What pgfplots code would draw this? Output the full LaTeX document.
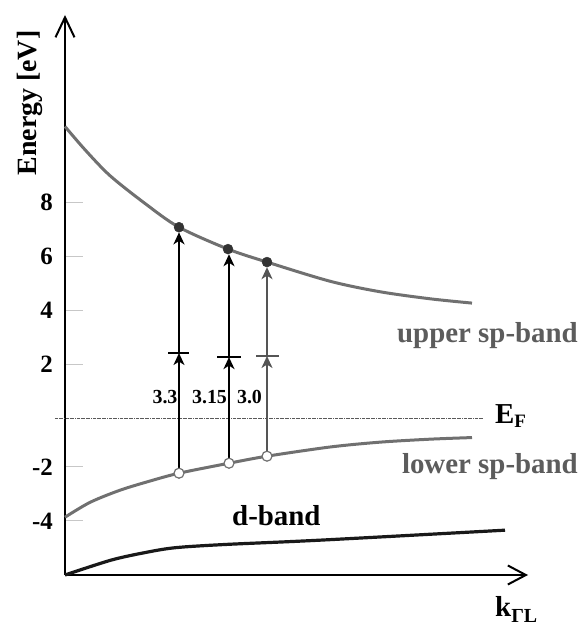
\documentclass[border=0pt]{standalone}
\usepackage{fontspec}
\setmainfont{Liberation Serif}
\usepackage{pgfplots}
\pgfplotsset{compat=1.18}
\usetikzlibrary{arrows.meta}
\definecolor{band}{HTML}{707070}
\definecolor{lbl}{HTML}{5C5C5C}
\definecolor{dotc}{HTML}{333333}
\definecolor{arr3}{HTML}{555555}

\begin{document}
\begin{tikzpicture}
\begin{axis}[
  scale only axis, width=463bp, height=560bp,
  xmin=0, xmax=463, ymin=-5.81, ymax=14.93,
  axis lines=left,
  axis line style={line width=2.4bp, black},
  x axis line style={-{Straight Barb[length=18bp,width=19bp,line width=2bp]}},
  y axis line style={-{Straight Barb[length=20bp,width=19bp,line width=2bp]}},
  xtick=\empty,
  ytick={-3.81,-1.81,2,4,6,8},
  yticklabels={\textbf{-4},\textbf{-2},\textbf{2},\textbf{4},\textbf{6},\textbf{8}},
  tick align=inside, major tick length=18bp,
  ytick style={black!22, line width=1bp},
  yticklabel style={font=\fontsize{25}{25}\selectfont\bfseries, inner sep=0pt, xshift=-12bp},
  clip=false,
]
\coordinate (sw) at (rel axis cs:0,0);
\coordinate (ne) at (rel axis cs:1,1);

% Fermi level
\addplot[densely dashdotted, black!65, line width=0.7bp] coordinates {(-10,0) (418,0)};

% upper sp-band
\addplot[band, line width=3bp, smooth] coordinates {
 (0,10.80) (20,9.94) (45,8.98) (80,7.95) (114,7.07) (163,6.26) (202,5.78)
 (265,5.07) (315,4.68) (365,4.42) (407,4.26)};
% lower sp-band
\addplot[band, line width=3bp, smooth] coordinates {
 (0,-3.67) (25,-3.12) (55,-2.67) (85,-2.33) (114,-2.04) (164,-1.67) (202,-1.41)
 (265,-1.07) (315,-0.89) (365,-0.78) (407,-0.72)};
% d-band
\addplot[black!90, line width=3.2bp, smooth] coordinates {
 (0,-5.81) (46,-5.26) (80,-4.98) (110,-4.80) (160,-4.68) (255,-4.52) (440,-4.15)};

% transition arrows
\addplot[black, line width=1.9bp, -{Stealth[length=12bp,width=11bp,inset=3.5bp]}] coordinates {(114,-2.04) (114,2.41)};
\addplot[black, line width=1.9bp, -{Stealth[length=12bp,width=11bp,inset=3.5bp]}] coordinates {(114,2.41) (114,6.88)};
\addplot[black, line width=1.5bp] coordinates {(103,2.41) (124,2.41)};

\addplot[black, line width=1.9bp, -{Stealth[length=12bp,width=11bp,inset=3.5bp]}] coordinates {(164,-1.67) (164,2.26)};
\addplot[black, line width=1.9bp, -{Stealth[length=12bp,width=11bp,inset=3.5bp]}] coordinates {(164,2.26) (164,6.07)};
\addplot[black, line width=1.5bp] coordinates {(152,2.26) (176,2.26)};

\addplot[arr3, line width=1.9bp, -{Stealth[length=12bp,width=11bp,inset=3.5bp]}] coordinates {(202,-1.41) (202,2.30)};
\addplot[arr3, line width=1.9bp, -{Stealth[length=12bp,width=11bp,inset=3.5bp]}] coordinates {(202,2.30) (202,5.59)};
\addplot[arr3, line width=1.5bp] coordinates {(191,2.30) (214,2.30)};

% final states
\addplot[only marks, mark=*, mark size=5bp, mark options={fill=dotc, draw=dotc}] coordinates {(114,7.07) (163,6.26) (202,5.78)};
% initial states
\addplot[only marks, mark=*, mark size=5bp, mark options={fill=white, draw=band, line width=1.2bp}] coordinates {(114,-2.04) (164,-1.67) (202,-1.41)};

% labels
\node[font=\fontsize{20}{20}\selectfont\bfseries] at (axis cs:100,0.78) {3.3};
\node[font=\fontsize{20}{20}\selectfont\bfseries] at (axis cs:144.5,0.78) {3.15};
\node[font=\fontsize{20}{20}\selectfont\bfseries] at (axis cs:184.5,0.78) {3.0};

\node[anchor=base east, inner sep=0pt, text=lbl, font=\fontsize{29}{29}\selectfont\bfseries] at (axis cs:513,2.81) {upper sp-band};
\node[anchor=base east, inner sep=0pt, text=lbl, font=\fontsize{29}{29}\selectfont\bfseries] at (axis cs:513,-2.04) {lower sp-band};
\node[anchor=base west, inner sep=0pt, font=\fontsize{29}{29}\selectfont\bfseries] at (axis cs:167,-3.96) {d-band};
\node[anchor=base west, inner sep=0pt, font=\fontsize{29}{29}\selectfont\bfseries] at (axis cs:430,-0.19) {E\textsubscript{\fontsize{19}{19}\selectfont F}};
\node[anchor=base west, inner sep=0pt, font=\fontsize{29}{29}\selectfont\bfseries] at (axis cs:430,-7.33) {k\raisebox{-6bp}{\fontsize{20}{20}\selectfont ΓL}};
\node[rotate=90, anchor=base, inner sep=0pt, font=\fontsize{28}{28}\selectfont\bfseries] at (axis cs:-28,11.67) {Energy [eV]};
\end{axis}
\pgfresetboundingbox
\useasboundingbox ([shift={(-65bp,-52bp)}]sw) rectangle ([shift={(52bp,15bp)}]ne);
\end{tikzpicture}
\end{document}
